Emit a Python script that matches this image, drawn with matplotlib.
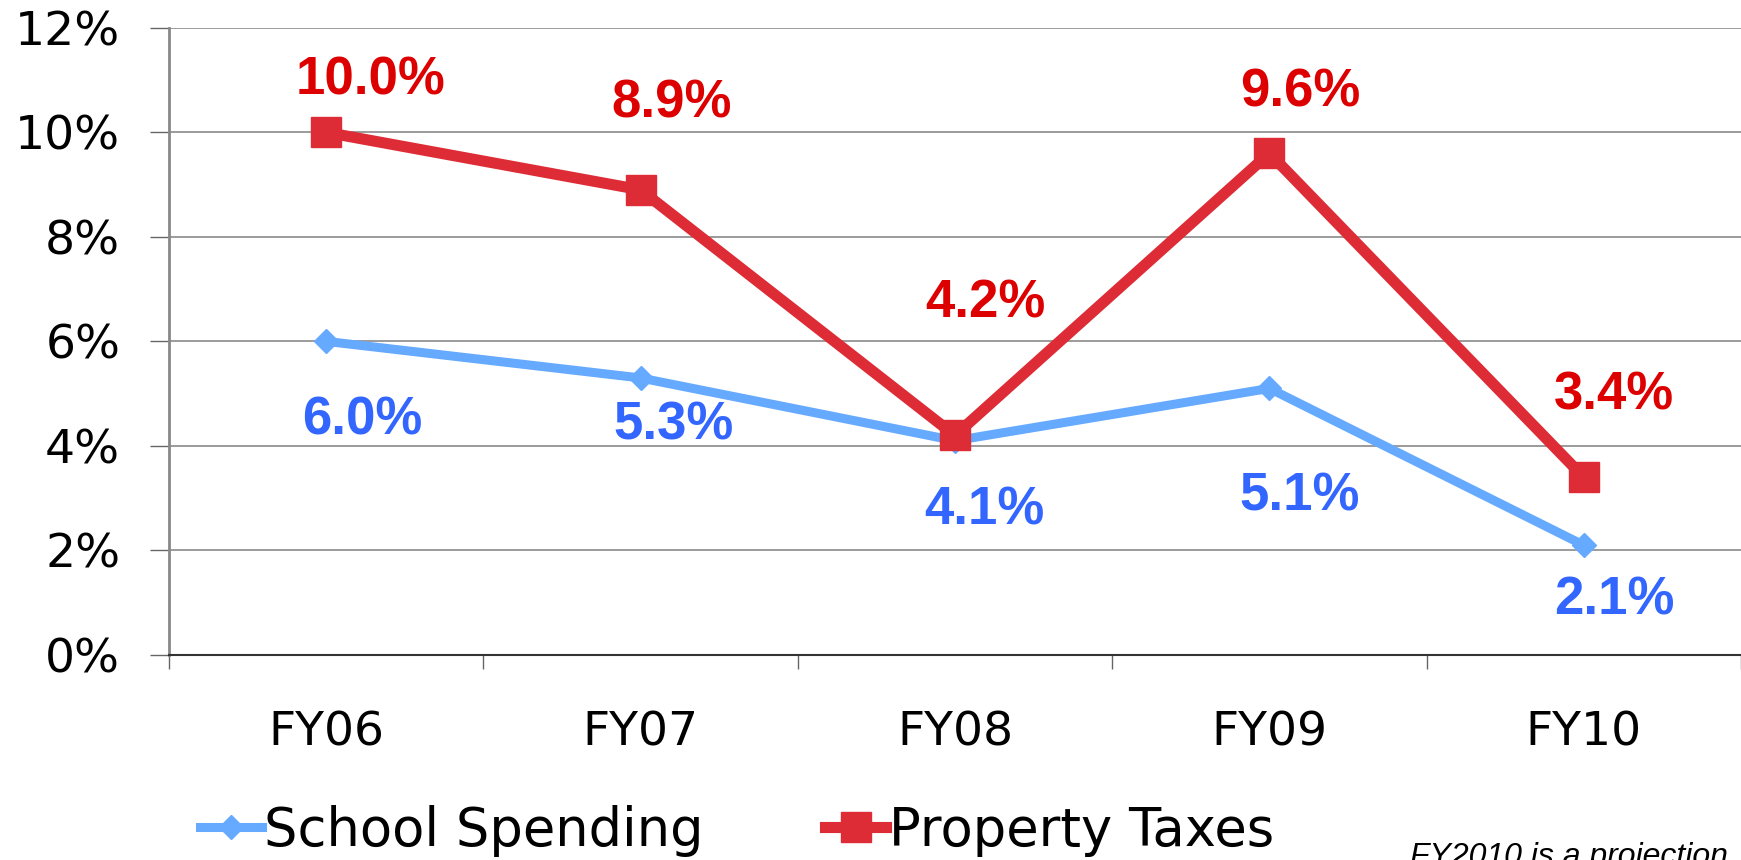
import matplotlib.pyplot as plt
import numpy as np

years = ['FY06', 'FY07', 'FY08', 'FY09', 'FY10']
school_spending = [6.0, 5.3, 4.1, 5.1, 2.1]
property_taxes = [10.0, 8.9, 4.2, 9.6, 3.4]

# label offsets in points (dx, dy) from each marker
red_offsets = [(32, 37), (22, 62), (22, 95), (22, 44), (22, 59)]
blue_offsets = [(26, -57), (24, -34), (21, -50), (22, -78), (22, -40)]

BLUE_LINE = '#66AAFF'
RED_LINE = '#DD2C36'
BLUE_TXT = '#3366FF'
RED_TXT = '#DD0000'

fig = plt.figure(figsize=(17.41, 8.6), dpi=100)
ax = fig.add_axes([0.097, 0.2384, 0.903, 0.7293])

x = np.arange(len(years))
ax.plot(x, school_spending, color=BLUE_LINE, lw=6.5, marker='D', ms=12,
        label='School Spending', zorder=3)
ax.plot(x, property_taxes, color=RED_LINE, lw=8, marker='s', ms=21,
        label='Property Taxes', zorder=4)

for i, v in enumerate(property_taxes):
    ax.annotate(f'{v:.1f}%', (x[i], v), xytext=red_offsets[i], textcoords='offset points',
                ha='center', va='center', color=RED_TXT, fontsize=38,
                fontweight='bold', family='Liberation Sans', zorder=5)
for i, v in enumerate(school_spending):
    ax.annotate(f'{v:.1f}%', (x[i], v), xytext=blue_offsets[i], textcoords='offset points',
                ha='center', va='center', color=BLUE_TXT, fontsize=38,
                fontweight='bold', family='Liberation Sans', zorder=5)

ax.set_xlim(-0.5, 4.5)
ax.set_ylim(0, 12)
ax.set_yticks(range(0, 13, 2))
ax.set_yticklabels([f'{t}%' for t in range(0, 13, 2)])
ax.yaxis.grid(True, color='#8a8a8a', lw=1.2)
ax.set_axisbelow(True)

ax.set_xticks(x)
ax.set_xticklabels(years)
ax.set_xticks(np.arange(-0.5, 5, 1), minor=True)
ax.tick_params(axis='x', which='major', length=0, pad=40, labelsize=34)
ax.tick_params(axis='x', which='minor', length=10, width=1, color='#666666')
ax.tick_params(axis='y', length=14, width=1, color='#666666', pad=21, labelsize=34)

for s in ['top', 'right']:
    ax.spines[s].set_visible(False)
ax.spines['left'].set_color('#888888')
ax.spines['left'].set_linewidth(2)
ax.spines['bottom'].set_color('#333333')
ax.spines['bottom'].set_linewidth(1.5)

fig.legend(loc='center left', bbox_to_anchor=(0.100, 0.034), ncol=2, frameon=False,
           prop={'family': 'DejaVu Sans', 'size': 38},
           handlelength=1.16, handletextpad=0.05, columnspacing=2.3, borderpad=0)

fig.text(0.81, -0.006, 'FY2010 is a projection', fontsize=23, style='italic',
         family='Liberation Sans', va='baseline', ha='left')

fig.savefig('out.png', dpi=100)
